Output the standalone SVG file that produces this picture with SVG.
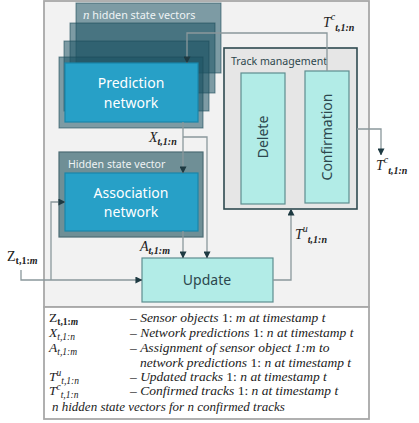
<svg xmlns="http://www.w3.org/2000/svg" width="419" height="423" viewBox="0 0 419 423">
<defs>
<marker id="ah" viewBox="0 0 8 8" refX="7.5" refY="4" markerWidth="7" markerHeight="7" markerUnits="userSpaceOnUse" orient="auto">
<path d="M0,0 L8,4 L0,8 Z" fill="#1e3a42"/>
</marker>
<style>
.sans{font-family:"Noto Sans","DejaVu Sans",sans-serif}
.ser{font-family:"Liberation Serif","DejaVu Serif",serif}
.stack{fill:#1d5464;fill-opacity:0.55;stroke:#1d4a56;stroke-opacity:0.6;stroke-width:1}
.net{fill:#27a0c7;stroke:#1a86aa;stroke-width:1.2}
.cyan{fill:#b2ece7;stroke:#5e8e90;stroke-width:1.2}
.conn{fill:none;stroke:#8a989c;stroke-width:1.3}
.arr{marker-end:url(#ah)}
.wt{fill:#ffffff}
.dk{fill:#2d474d}
.lbl{fill:#222;font-style:italic}
</style>
</defs>
<rect x="0" y="0" width="419" height="423" fill="#ffffff"/>
<g id="frame">
<rect x="44" y="1" width="325" height="306" fill="#f2f2f2" stroke="#a8a8a8" stroke-width="1.8"/>
<rect x="44" y="307" width="325" height="112" fill="#ffffff" stroke="#a8a8a8" stroke-width="1.8"/>
</g>
<g id="hidden-state-stack">
<rect class="stack" x="76" y="3" width="145" height="70"/>
<rect class="stack" x="70" y="23" width="145" height="70"/>
<rect class="stack" x="64" y="41" width="145" height="70"/>
<rect class="stack" x="59" y="57" width="144" height="71"/>
<text class="sans" fill="#eef3f4" x="83" y="19" font-size="10.8"><tspan font-family="Liberation Serif" font-style="italic" font-size="13">n</tspan> hidden state vectors</text>
</g>
<g id="prediction-network">
<rect class="net" x="65" y="63" width="133" height="59"/>
<text class="sans wt" x="131" y="88" font-size="14" text-anchor="middle">Prediction</text>
<text class="sans wt" x="131" y="108" font-size="14" text-anchor="middle">network</text>
</g>
<g id="hidden-state-vector">
<rect x="59" y="152" width="144" height="85" fill="#6f8f96" stroke="#4c6c74" stroke-width="1.2"/>
<text class="sans" fill="#eef3f4" x="68" y="168" font-size="10.6">Hidden state vector</text>
</g>
<g id="association-network">
<rect class="net" x="65" y="173" width="133" height="58"/>
<text class="sans wt" x="131" y="198" font-size="14" text-anchor="middle">Association</text>
<text class="sans wt" x="131" y="217" font-size="14" text-anchor="middle">network</text>
</g>
<g id="track-management">
<rect x="224" y="48" width="133" height="161" fill="#e6e6e6" stroke="#2f4a50" stroke-width="1.6"/>
<text class="sans dk" x="231" y="65" font-size="10.6">Track management</text>
</g>
<g id="delete">
<rect class="cyan" x="241" y="73" width="44" height="131"/>
<text class="sans dk" transform="translate(263,137) rotate(-90)" x="0" y="5" font-size="14" text-anchor="middle">Delete</text>
</g>
<g id="confirmation">
<rect class="cyan" x="305" y="71" width="44" height="132"/>
<text class="sans dk" transform="translate(327,137) rotate(-90)" x="0" y="5" font-size="14" text-anchor="middle">Confirmation</text>
</g>
<g id="update">
<rect class="cyan" x="142" y="258" width="131" height="44"/>
<text class="sans dk" x="207" y="285" font-size="14" text-anchor="middle">Update</text>
</g>
<g id="connectors">
<path class="conn arr" d="M327,71 V33 H187 V63"/>
<path class="conn arr" d="M357,129 H381 V155"/>
<path class="conn arr" d="M183,122 V173"/>
<path class="conn arr" d="M183,137 H207 V258"/>
<path class="conn arr" d="M183,231 V258"/>
<path class="conn arr" d="M21,270 V280 H142"/>
<path class="conn arr" d="M51,280 V202 H65"/>
<path class="conn arr" d="M273,280 H291 V209"/>
</g>
<g id="labels" class="ser">
<text class="lbl" x="323" y="27" font-size="14">T<tspan font-size="10" dy="-7">c</tspan><tspan font-size="10" font-weight="bold" dy="11">t,1:n</tspan></text>
<text class="lbl" x="376" y="170" font-size="14">T<tspan font-size="10" dy="-7">c</tspan><tspan font-size="10" font-weight="bold" dy="11">t,1:n</tspan></text>
<text class="lbl" x="295" y="239" font-size="14">T<tspan font-size="10" dy="-7">u</tspan><tspan font-size="10" font-weight="bold" dy="11">t,1:n</tspan></text>
<text class="lbl" x="149" y="142" font-size="14">X<tspan font-size="10" font-weight="bold" dy="3">t,1:n</tspan></text>
<text class="lbl" x="140" y="251" font-size="14">A<tspan font-size="10" font-weight="bold" dy="3">t,1:m</tspan></text>
<text x="7" y="261" font-size="14" fill="#222">Z<tspan font-size="10" font-weight="bold" dy="3">t,1:<tspan font-style="italic">m</tspan></tspan></text>
</g>
<g id="legend" class="ser" fill="#222" font-size="13.5">
<text x="49" y="322">Z<tspan font-size="9.5" font-weight="bold" dy="3">t,1:<tspan font-style="italic">m</tspan></tspan></text>
<text x="49" y="337" font-style="italic">X<tspan font-size="9.5" dy="3">t,1:n</tspan></text>
<text x="49" y="352" font-style="italic">A<tspan font-size="9.5" dy="3">t,1:m</tspan></text>
<text x="49" y="381" font-style="italic">T<tspan font-size="9.5" dy="-5">u</tspan><tspan font-size="9.5" dy="8">t,1:n</tspan></text>
<text x="49" y="395" font-style="italic">T<tspan font-size="9.5" dy="-5">c</tspan><tspan font-size="9.5" dy="8">t,1:n</tspan></text>
<text x="130" y="322"><tspan>– </tspan><tspan font-style="italic">Sensor objects </tspan>1: <tspan font-style="italic">m at timestamp t</tspan></text>
<text x="130" y="337"><tspan>– </tspan><tspan font-style="italic">Network predictions </tspan>1: <tspan font-style="italic">n at timestamp t</tspan></text>
<text x="130" y="352" font-style="italic"><tspan font-style="normal">– </tspan>Assignment of sensor object 1:m to</text>
<text x="140" y="367"><tspan font-style="italic">network predictions </tspan>1: <tspan font-style="italic">n at timestamp t</tspan></text>
<text x="130" y="381"><tspan>– </tspan><tspan font-style="italic">Updated tracks </tspan>1: <tspan font-style="italic">n at timestamp t</tspan></text>
<text x="130" y="395"><tspan>– </tspan><tspan font-style="italic">Confirmed tracks </tspan>1: <tspan font-style="italic">n at timestamp t</tspan></text>
<text x="52" y="411" font-style="italic" font-size="13">n hidden state vectors for n confirmed tracks</text>
</g>
</svg>
